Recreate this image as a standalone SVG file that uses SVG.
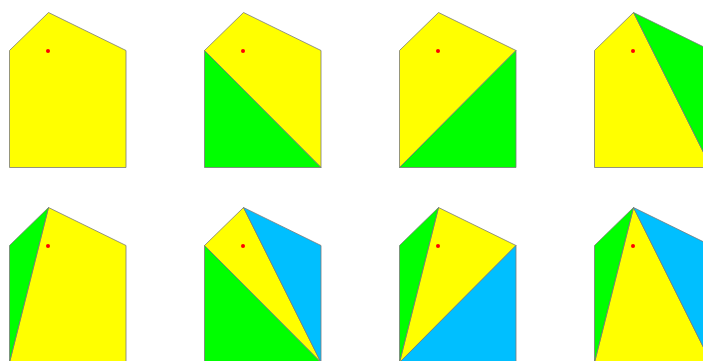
<svg xmlns="http://www.w3.org/2000/svg" width="703" height="361" viewBox="0 0 703 361">
<style>
polygon{stroke:#7a7a7a;stroke-width:0.8;stroke-linejoin:round}
.y{fill:#ffff00}.g{fill:#00ff00}.b{fill:#00bfff}
.d{fill:#ff0000}
</style>
<rect width="703" height="361" fill="#fff"/>
<g id="p1" transform="translate(0,0)">
<polygon class="y" points="9.5,50.5 48.5,12.5 126,50.5 126,167.5 9.5,167.5"/>
<circle class="d" cx="48" cy="51" r="2"/>
</g>
<g id="p2" transform="translate(195,0)">
<polygon class="y" points="9.5,50.5 48.5,12.5 126,50.5 126,167.5"/>
<polygon class="g" points="9.5,50.5 126,167.5 9.5,167.5"/>
<circle class="d" cx="48" cy="51" r="2"/>
</g>
<g id="p3" transform="translate(390,0)">
<polygon class="y" points="9.5,50.5 48.5,12.5 126,50.5 9.5,167.5"/>
<polygon class="g" points="126,50.5 126,167.5 9.5,167.5"/>
<circle class="d" cx="48" cy="51" r="2"/>
</g>
<g id="p4" transform="translate(585,0)">
<polygon class="y" points="9.5,50.5 48.5,12.5 126,167.5 9.5,167.5"/>
<polygon class="g" points="48.5,12.5 126,50.5 126,167.5"/>
<circle class="d" cx="48" cy="51" r="2"/>
</g>
<g id="p5" transform="translate(0,195)">
<polygon class="y" points="48.5,12.5 126,50.5 126,167.5 9.5,167.5"/>
<polygon class="g" points="9.5,50.5 48.5,12.5 9.5,167.5"/>
<circle class="d" cx="48" cy="51" r="2"/>
</g>
<g id="p6" transform="translate(195,195)">
<polygon class="y" points="9.5,50.5 48.5,12.5 126,167.5"/>
<polygon class="g" points="9.5,50.5 126,167.5 9.5,167.5"/>
<polygon class="b" points="48.5,12.5 126,50.5 126,167.5"/>
<circle class="d" cx="48" cy="51" r="2"/>
</g>
<g id="p7" transform="translate(390,195)">
<polygon class="y" points="48.5,12.5 126,50.5 9.5,167.5"/>
<polygon class="g" points="9.5,50.5 48.5,12.5 9.5,167.5"/>
<polygon class="b" points="126,50.5 126,167.5 9.5,167.5"/>
<circle class="d" cx="48" cy="51" r="2"/>
</g>
<g id="p8" transform="translate(585,195)">
<polygon class="y" points="48.5,12.5 126,167.5 9.5,167.5"/>
<polygon class="g" points="9.5,50.5 48.5,12.5 9.5,167.5"/>
<polygon class="b" points="48.5,12.5 126,50.5 126,167.5"/>
<circle class="d" cx="48" cy="51" r="2"/>
</g>
</svg>
